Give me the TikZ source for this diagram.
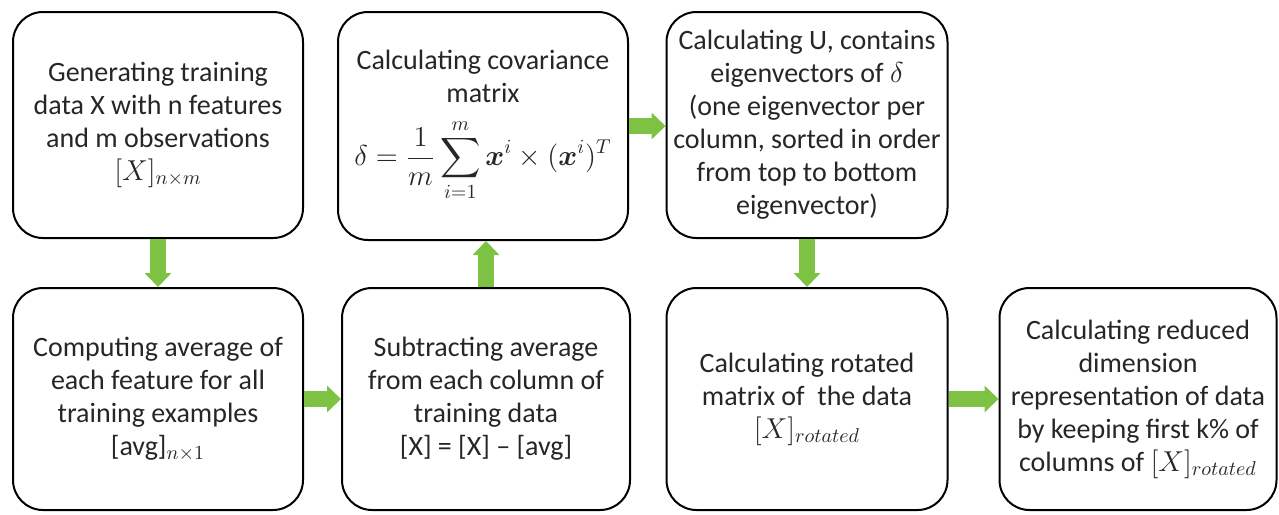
\documentclass[tikz,border=0pt]{standalone}
\usepackage{amsmath, amssymb}
\usepackage{fontspec}
\setmainfont{Carlito}
\usetikzlibrary{arrows.meta}
\definecolor{arrowgreen}{HTML}{7DC242}

\begin{document}
\begin{tikzpicture}[x=0.5pt, y=-0.5pt]
                % Stili per blocchi e frecce
                \tikzset{
                    blocco/.style={
                        draw,
                        line width=1pt,
                        rounded corners=15pt,
                        align=center,
                        inner sep=0pt,
                        text=black!85,
                        font=\fontsize{14pt}{16.5pt}\selectfont
                    },
                    freccia/.style={
                        line width=8pt,
                        draw=arrowgreen,
                        -{Triangle[width=13pt, length=7pt]}
                    }
                }
                \useasboundingbox (0,0) rectangle (1279,514);

                % Blocchi in alto
                \node[blocco, minimum width=145pt, minimum height=113pt] (gen) at (158,125)
                    {Generating training\\data X with n features\\and m observations\\$[X]_{n\times m}$};
                \node[blocco, minimum width=145pt, minimum height=114pt] (cov) at (483,126)
                    {Calculating covariance\\matrix\\[7pt]
                     $\displaystyle \delta=\frac{1}{m}\sum_{i=1}^{m}\boldsymbol{x}^{i}\times(\boldsymbol{x}^{i})^{T}$};
                \node[blocco, minimum width=140.5pt, minimum height=113pt] (eig) at (807,125)
                    {Calculating U, contains\\eigenvectors of $\delta$\\(one eigenvector per\\column, sorted in order\\from top to bottom\\eigenvector)};

                % Blocchi in basso
                \node[blocco, minimum width=145pt, minimum height=111pt] (avg) at (158,399)
                    {Computing average of\\each feature for all\\training examples\\{[avg]}$_{n\times 1}$};
                \node[blocco, minimum width=144pt, minimum height=111pt] (sub) at (486,399)
                    {Subtracting average\\from each column of\\training data\\{[X] = [X] -- [avg]}};
                \node[blocco, minimum width=140.5pt, minimum height=111pt] (rot) at (807,399)
                    {Calculating rotated\\matrix of\ \ the data\\$[X]_{rotated}$};
                \node[blocco, minimum width=138.5pt, minimum height=111pt] (red) at (1138,399)
                    {Calculating reduced\\dimension\\representation of data\\by keeping first k\% of\\columns of $[X]_{rotated}$};

                % Frecce
                \draw[freccia] (gen.south) -- (avg.north);
                \draw[freccia] (avg.east) -- (sub.west);
                \draw[freccia] (sub.north) -- (sub.north |- cov.south);
                \draw[freccia] (cov.east) -- (cov.east -| eig.west);
                \draw[freccia] (eig.south) -- (rot.north);
                \draw[freccia] (rot.east) -- (red.west);
            \end{tikzpicture}
\end{document}
